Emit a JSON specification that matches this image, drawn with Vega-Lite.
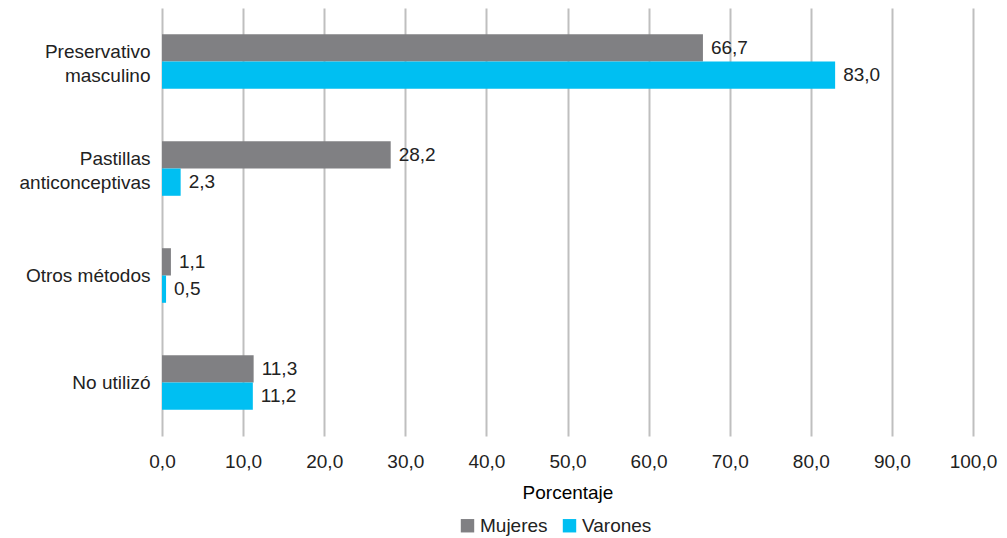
{
  "$schema": "https://vega.github.io/schema/vega-lite/v6.json",
  "width": 811,
  "height": 428,
  "autosize": "none",
  "padding": {"left": 162, "top": 8, "right": 34, "bottom": 102},
  "background": "white",
  "data": {"values": [
    {"metodo": "Preservativo masculino", "sexo": "Mujeres", "valor": 66.7},
    {"metodo": "Preservativo masculino", "sexo": "Varones", "valor": 83.0},
    {"metodo": "Pastillas anticonceptivas", "sexo": "Mujeres", "valor": 28.2},
    {"metodo": "Pastillas anticonceptivas", "sexo": "Varones", "valor": 2.3},
    {"metodo": "Otros métodos", "sexo": "Mujeres", "valor": 1.1},
    {"metodo": "Otros métodos", "sexo": "Varones", "valor": 0.5},
    {"metodo": "No utilizó", "sexo": "Mujeres", "valor": 11.3},
    {"metodo": "No utilizó", "sexo": "Varones", "valor": 11.2}
  ]},
  "encoding": {
    "y": {
      "field": "metodo", "type": "nominal",
      "sort": ["Preservativo masculino", "Pastillas anticonceptivas", "Otros métodos", "No utilizó"],
      "scale": {"paddingInner": 0.49, "paddingOuter": 0.245},
      "axis": {
        "title": null, "domain": false, "ticks": false, "labelPadding": 12,
        "labelFontSize": 19, "labelColor": "#222222", "labelFont": "Liberation Sans",
        "labelLineHeight": 24,
        "labelOffset": {"condition": {"test": "datum.value == 'Preservativo masculino' || datum.value == 'Pastillas anticonceptivas'", "value": -10}, "value": 0},
        "labelExpr": "datum.label == 'Preservativo masculino' ? ['Preservativo', 'masculino'] : datum.label == 'Pastillas anticonceptivas' ? ['Pastillas', 'anticonceptivas'] : datum.label"
      }
    },
    "yOffset": {"field": "sexo", "type": "nominal", "sort": ["Mujeres", "Varones"], "scale": {"paddingInner": 0}},
    "x": {
      "field": "valor", "type": "quantitative",
      "scale": {"domain": [0, 100], "nice": false},
      "axis": {
        "values": [0, 10, 20, 30, 40, 50, 60, 70, 80, 90, 100],
        "format": ".1f",
        "title": "Porcentaje", "titleFontSize": 19, "titleFontWeight": "normal", "titleColor": "#000000",
        "titleFont": "Liberation Sans", "titlePadding": 12,
        "labelFontSize": 19, "labelColor": "#222222", "labelFont": "Liberation Sans", "labelPadding": 16,
        "labelFlush": false, "labelOverlap": false,
        "domain": false, "ticks": false,
        "grid": true, "gridColor": "#bfbfbf", "gridWidth": 2
      }
    }
  },
  "layer": [
    {
      "mark": {"type": "bar"},
      "encoding": {
        "color": {
          "field": "sexo", "type": "nominal",
          "scale": {"domain": ["Mujeres", "Varones"], "range": ["#808083", "#00BFF2"]},
          "legend": {
            "title": null, "orient": "none", "direction": "horizontal",
            "legendX": 296, "legendY": 508,
            "symbolType": "square", "symbolSize": 180, "symbolStrokeWidth": 0,
            "labelFontSize": 19, "labelColor": "#222222", "labelFont": "Liberation Sans",
            "labelOffset": 3, "columnPadding": 12
          }
        }
      }
    },
    {
      "mark": {"type": "text", "align": "left", "dx": 8, "fontSize": 19, "font": "Liberation Sans", "color": "#222222"},
      "encoding": {
        "text": {"field": "valor", "type": "quantitative", "format": ".1f"}
      }
    }
  ],
  "config": {
    "view": {"stroke": null},
    "locale": {"number": {"decimal": ",", "thousands": ".", "grouping": [3], "currency": ["", " €"]}}
  }
}
